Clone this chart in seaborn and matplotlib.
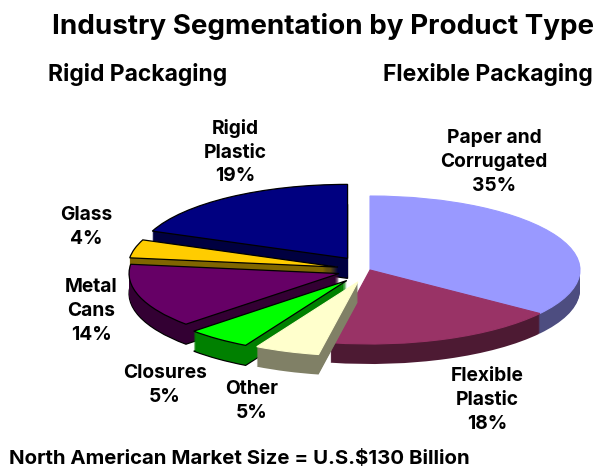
import matplotlib
matplotlib.use("Agg")
import matplotlib.pyplot as plt
import seaborn as sns

sns.set_theme(style="white")
plt.rcParams["font.family"] = ["Inter", "Liberation Sans", "DejaVu Sans"]

# Market share by product type, running counter-clockwise from twelve o'clock
names = ["Rigid\nPlastic", "Glass", "Metal\nCans", "Closures", "Other",
         "Flexible\nPlastic", "Paper and\nCorrugated"]
shares = [19, 4, 14, 5, 5, 18, 35]
explode = [0.19, 0.157, 0.155, 0.18, 0.17, 0, 0]
top_colors = ["#000080", "#FFCC00", "#660066", "#00FF00", "#FFFFCC", "#993366", "#9999FF"]
outlined = [True, True, True, True, False, False, False]
# Painter's rank of each slice, furthest away lowest
stack_rank = [0, 2, 3, 5, 6, 4, 1]

palette = sns.color_palette(top_colors)
side_colors = [tuple(c * 0.5 for c in col) for col in palette]

W, H = 600, 467
CX, CY = 370, 270      # pie centre in pixels from the top left
RX, RY = 210, 74       # ellipse radii in pixels
DEPTH = 20             # extrusion height in pixels

fig = plt.figure(figsize=(W / 100, H / 100), dpi=100, facecolor="white")
ax = fig.add_axes([0, 0, 1, 1])

for layer in range(DEPTH, -1, -1):
    is_top = layer == 0
    is_bottom = layer == DEPTH
    wedges, _ = ax.pie(
        shares, explode=explode, startangle=90, radius=1,
        center=(0, -layer / RY),
        colors=palette if is_top else side_colors,
    )
    for i, w in enumerate(wedges):
        w.set_zorder(stack_rank[i] * 100 + DEPTH - layer + 1)
        w.set_clip_on(False)
        if (is_top or is_bottom) and outlined[i]:
            w.set_edgecolor("black")
            w.set_linewidth(0.9)
        elif is_top:
            w.set_edgecolor(w.get_facecolor())
            w.set_linewidth(0.8)
        else:
            w.set_edgecolor("none")
            w.set_linewidth(0)

ax.set_aspect("auto")
ax.set_xlim(-CX / RX, (W - CX) / RX)
ax.set_ylim(-(H - CY) / RY, CY / RY)
ax.set_axis_off()


def put(x, y, s, size, spacing=1.2, **kw):
    fig.text(x / W, 1 - y / H, s, fontsize=size, fontweight="bold", color="black",
             linespacing=spacing, **kw)


label_xy = [(235, 152), (86, 227), (91, 311), (165, 385), (252, 401), (487, 400), (494, 162)]
for (x, y), name, share in zip(label_xy, names, shares):
    put(x, y, f"{name}\n{share}%", 13.8, spacing=1.4, ha="center", va="center")

put(323.5, 26, "Industry Segmentation by Product Type", 20, ha="center", va="center")
put(137.5, 75, "Rigid Packaging", 16.5, ha="center", va="center")
put(488, 75, "Flexible Packaging", 16.5, ha="center", va="center")
put(9, 459, "North American Market Size = U.S.$130 Billion", 14.7, ha="left", va="center")

fig.savefig("out.png", dpi=100)
